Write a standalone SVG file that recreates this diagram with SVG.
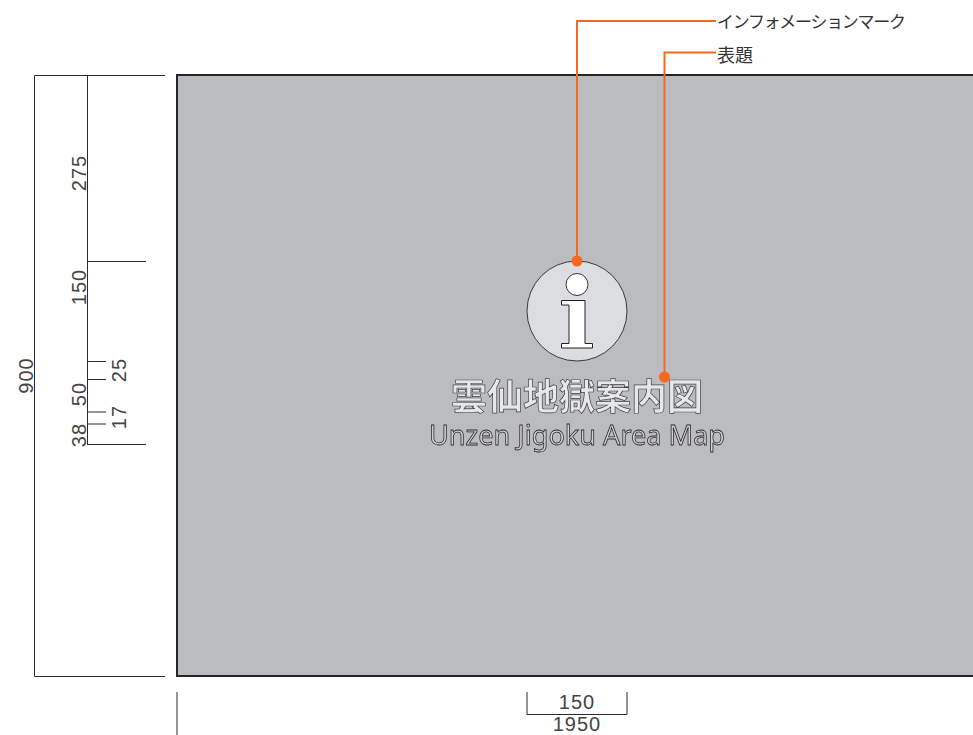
<svg xmlns="http://www.w3.org/2000/svg" width="973" height="735" viewBox="0 0 973 735">
<defs><filter id="gray" x="0" y="0" width="1" height="1"><feOffset dx="0" dy="0"/></filter></defs>
<style>
.dim{stroke:#2b2b2b;stroke-width:1;fill:none}
.num{font-family:"Liberation Sans",Arial,sans-serif;font-size:20px;letter-spacing:1px;fill:#444;text-anchor:middle}
.lab{font-family:"Noto Sans CJK JP",sans-serif;fill:#333}
.lead{stroke:#f4691f;stroke-width:2;fill:none}
.dot{fill:#f4691f}
.ttl{fill:#e6e7e9;stroke:#3f3f3f;stroke-width:.7;text-anchor:middle}
.sub{fill:#cfd0d3;stroke:#2a2a2a;stroke-width:.8}
</style>
<rect width="973" height="735" fill="#fff"/>
<g id="panel"><rect x="177" y="75" width="820" height="601" fill="#bbbcc0" stroke="#252525" stroke-width="2"/></g>
<g id="dimensions">
<path class="dim" d="M165 75.500H34.500V676.500H165M87.500 75.500V444.500M87 261.500H146M87 444.500H146M87 361.500H106M87 379.500H106M87 412H106M87 424H106M177 692V735M527 692V714.500H627V692"/>
<text class="num" transform="translate(33 375.500) rotate(-90)">900</text>
<text class="num" transform="translate(86 173) rotate(-90)">275</text>
<text class="num" transform="translate(86 287) rotate(-90)">150</text>
<text class="num" transform="translate(86 394) rotate(-90)">50</text>
<text class="num" transform="translate(86 435) rotate(-90)">38</text>
<text class="num" transform="translate(126 370) rotate(-90)">25</text>
<text class="num" transform="translate(126 417) rotate(-90)">17</text>
<text class="num" x="577" y="709">150</text>
<text class="num" x="577" y="730.500">1950</text>
</g>
<g id="info-mark">
<circle cx="577" cy="311" r="50" fill="#dcdde0" stroke="#3a3a3a" stroke-width="1"/>
<circle cx="577" cy="284.500" r="11" fill="#fff" stroke="#333" stroke-width="1"/>
<path d="M561.500 300.500H585V343.500H592.500V348H561.500V343.500H569V305H561.500Z" fill="#fff" stroke="#222" stroke-width="1"/>
</g>
<g id="title" filter="url(#gray)">
<text class="ttl" x="577" y="410" font-family="'Noto Sans CJK JP',sans-serif" font-weight="700" font-size="36" textLength="252" lengthAdjust="spacing">雲仙地獄案内図</text>
<text class="ttl sub" x="577" y="445" font-family="'Noto Sans','Liberation Sans',sans-serif" font-size="28" textLength="296" lengthAdjust="spacingAndGlyphs">Unzen Jigoku Area Map</text>
</g>
<g id="connectors">
<path class="lead" d="M716 21H577V261M716 52.500H664.500V377"/>
<circle class="dot" cx="577" cy="261" r="5.500"/>
<circle class="dot" cx="664.500" cy="377" r="5.500"/>
</g>
<g id="labels">
<text class="lab" x="717" y="28" font-size="17" textLength="189" lengthAdjust="spacing">インフォメーションマーク</text>
<text class="lab" x="717" y="62" font-size="18">表題</text>
</g>
</svg>
